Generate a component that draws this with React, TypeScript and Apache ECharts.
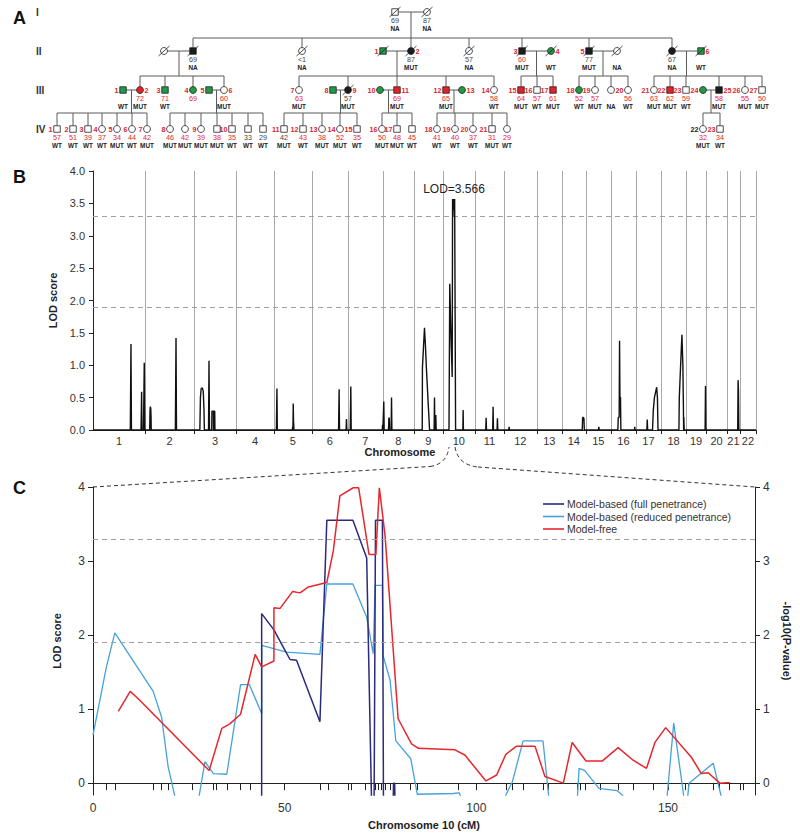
import React, { useEffect, useRef } from 'react';
import * as echarts from 'echarts';

const FONT = '"Liberation Sans", Arial, Helvetica, sans-serif';

// ---------------- Panel B: genome-wide scan ----------------
const chromNames = ['1','2','3','4','5','6','7','8','9','10','11','12','13','14','15','16','17','18','19','20','21','22'];
const chromLengths = [276,260,223,201,201,191,186,164,154,170,154,175,133,127,133,133,133,133,106,111,69,85];
const lodThresholds = [3.3, 1.9];
const peakLabel = 'LOD=3.566';

const chr1 = [[198,0],[201.5,1.33],[204,0],[255,0],[258,0.59],[260,0],[268,0],[272,1.04],[275,0]];
const chr2 = [[25,0],[26.5,0.3],[28.5,0.36],[30.5,0.33],[32,0.2],[33,0],[161,0],[164.5,1.42],[167,0]];
const chr3 = [[31,0],[34,0.5],[38,0.64],[44,0.65],[49,0.6],[53,0.3],[55,0],[77,0],[79.5,1.07],[82,0],[94,0],[95,0.29],[103,0.29],[103.5,0],[104,0.29],[110,0.29],[111,0]];
const chr4: number[][] = [];
const chr5 = [[13,0],[16,0.64],[18,0],[98,0],[99,0.04],[101,0.05],[102.5,0.41],[104,0.12],[105,0.1],[106,0]];
const chr6 = [[142,0],[145,0.63],[147,0],[182,0],[184,0.17],[186,0]];
const chr7 = [[13,0],[16,0.67],[18,0],[183,0],[184.5,0.08],[186,0]];
const chr8 = [[3,0],[5,0.44],[7,0],[30,0],[32,0.18],[34,0.19],[36,0],[44,0],[46,0.5],[48,0]];
const chr9 = [[45,0],[46,0.96],[52,1.3],[57,1.58],[62,1.3],[67,0.96],[75,0.5],[84,0],[108,0],[110,0.5],[112,0],[115,0],[117,0.23],[119,0]];
const chr10 = [[33,0],[37,2.26],[44,1.4],[50,0.82],[52,3.566],[54,3.3],[56,3.566],[60,3.4],[63,3.566],[66,3.566],[68,0],[106.5,0],[108,0.31],[109.5,0]];
const chr11 = [[58,0],[60,0.19],[62,0],[95,0],[97,0.36],[99,0],[118,0],[120,0.18],[122,0]];
const chr12 = [[26,0],[28,0.05],[30,0]];
const chr13: number[][] = [];
const chr14 = [[108,0],[110,0.18],[112,0.2],[115,0.2],[117,0.18],[119,0]];
const chr15 = [[67,0],[69,0.05],[71,0]];
const chr16 = [[37,0],[39,0.19],[44,0.2],[46,1.38],[48,0.5],[51,0.51],[53,0],[125,0],[127,0.05],[128,0]];
const chr17 = [[58,0],[60,0.16],[62,0],[88,0],[92,0.3],[98,0.5],[104,0.58],[110,0.66],[114,0.5],[117,0]];
const chr18 = [[95,0],[97,0.5],[104,1.0],[111,1.47],[116,1.0],[119,0.3],[120,0],[121,0.2],[123,0]];
const chr19 = [[101,0],[103,0.68],[105,0]];
const chr20: number[][] = [];
const chr21 = [[57,0],[59,0.77],[61,0.6],[63,0]];
const chr22: number[][] = [];
const genomeScan = [chr1,chr2,chr3,chr4,chr5,chr6,chr7,chr8,chr9,chr10,chr11,chr12,chr13,chr14,chr15,chr16,chr17,chr18,chr19,chr20,chr21,chr22];

// ---------------- Panel C: chromosome 10 ----------------
const chr10Max = 172.7;
const cTickLabels = [0, 50, 100, 150];
const lodTickLabels = [0, 1, 2, 3, 4];
const markerPositions = [0,3.4,5.7,15.7,17.9,19.6,26,31.4,32.1,34.9,38.3,41,44,50,59.2,61.4,66.6,67.5,70.9,72.7,73.6,74.4,75.3,76.2,77.5,78.3,82.7,84.6,95.3,100,107.9,109.4,112.2,117.5,118.8,126.2,127,128.3,132.2,137,140.9,146.1,150,154.4,155.3,161.8,163.5,166.1,168.8,169.6];

const seriesNames = ['Model-based (full penetrance)', 'Model-based (reduced penetrance)', 'Model-free'];

const fullPenetrance = [[44,-0.6],[44,2.29],[47.2,2.07],[49.6,1.84],[51.4,1.67],[53.1,1.66],[59.2,0.83],[61,3.55],[67.8,3.55],[71.4,3.04],[72.8,-0.6],[73.3,-0.6],[73.7,3.55],[75.5,3.55],[75.8,-0.6],[78.2,-0.6],[78.4,0.0],[78.7,0.0],[78.9,-0.6]];

const reducedPenetrance = [[0,0.65],[3.5,1.57],[5.7,2.03],[15.7,1.24],[17.9,0.89],[19.6,0.22],[25,-1],[29.2,0.29],[31.4,0.13],[34.9,0.12],[38.5,1.33],[40.8,1.33],[44,0.94],[44,1.86],[50.5,1.77],[59.2,1.74],[61,2.69],[67.8,2.69],[71.4,2.24],[73.1,1.75],[73.6,2.67],[75.5,2.67],[75.7,1.72],[77.5,1.39],[79,0.57],[82.9,0.33],[84.6,-0.15],[94,-0.14],[95.5,-0.13],[97,-0.3],[100,-1],[106,-1],[107.7,-0.16],[109.4,0.02],[112.2,0.57],[117.4,0.57],[120.5,-1],[125.5,-1],[126.8,0.2],[128.3,0.17],[132,-0.07],[136.7,-0.1],[138.3,-0.17],[140,-1],[148,-1],[149.8,-0.16],[151.5,0.81],[154.7,-0.4],[155.5,0.0],[161.8,0.27],[163.8,-0.16],[166,-1]];

const modelFree = [[6.6,0.97],[9.7,1.24],[11.8,1.14],[30.3,0.17],[33.6,0.74],[35.7,0.8],[38.5,0.93],[42.3,1.74],[44,1.57],[47.2,1.65],[47.2,2.37],[48.8,2.36],[52.1,2.59],[54,2.57],[56.2,2.65],[61,2.71],[62.7,3.14],[64.4,3.88],[67.9,3.99],[69.3,3.99],[72,3.09],[73.8,3.09],[74.7,3.99],[76.2,3.34],[79.6,0.87],[83.1,0.53],[84.9,0.47],[94.4,0.45],[97,0.38],[102.5,0.03],[105.3,0.11],[107.7,0.39],[110.5,0.5],[115.3,0.5],[117.9,0.09],[122.7,0.0],[125,0.55],[128.6,0.3],[132.9,0.3],[137,0.48],[140.9,0.31],[144.4,0.2],[146.6,0.55],[149.4,0.75],[156.1,0.35],[158.7,0.13],[160.5,0.14],[163.5,0.0],[166.1,0.01]];

// ---------------- Panel A: pedigree ----------------
const genLabels = ['I', 'II', 'III', 'IV'];
// [label, generation, x, sex, fill, deceased, age, ageRed, status, labelSide]
type Person = [string, number, number, string, string, number, string, number, string, string];
const people: Person[] = [
  ['', 0, 395, 'm', 'o', 1, '69', 0, 'NA', ''],
  ['', 0, 427, 'f', 'o', 1, '87', 0, 'NA', ''],
  ['', 1, 164, 'f', 'o', 1, '', 0, '', ''],
  ['', 1, 193, 'm', 'k', 1, '69', 0, 'NA', ''],
  ['', 1, 302, 'f', 'o', 1, '<1', 0, 'NA', ''],
  ['1', 1, 383, 'm', 'g', 1, '', 0, '', 'l'],
  ['2', 1, 411, 'f', 'k', 1, '87', 0, 'MUT', 'r'],
  ['', 1, 469, 'f', 'o', 1, '57', 0, 'NA', ''],
  ['3', 1, 522, 'm', 'k', 1, '60', 1, 'MUT', 'l'],
  ['4', 1, 551, 'f', 'g', 1, '', 0, 'WT', 'r'],
  ['5', 1, 589, 'm', 'k', 1, '77', 0, 'MUT', 'l'],
  ['', 1, 617, 'f', 'o', 1, '', 0, 'NA', ''],
  ['', 1, 672, 'f', 'k', 1, '67', 0, 'NA', ''],
  ['6', 1, 701, 'm', 'g', 1, '', 0, 'WT', 'r'],
  ['1', 2, 123, 'm', 'g', 0, '', 0, 'WT', 'l'],
  ['2', 2, 140, 'f', 'r', 0, '72', 1, 'MUT', 'r'],
  ['3', 2, 165, 'm', 'g', 0, '71', 1, 'WT', 'l'],
  ['4', 2, 193, 'f', 'g', 0, '69', 1, '', 'l'],
  ['5', 2, 209, 'm', 'g', 0, '', 0, '', 'l'],
  ['6', 2, 224, 'f', 'o', 0, '60', 1, 'MUT', 'r'],
  ['7', 2, 299, 'f', 'o', 0, '63', 1, 'MUT', 'l'],
  ['8', 2, 333, 'm', 'g', 0, '', 0, '', 'l'],
  ['9', 2, 348, 'f', 'k', 1, '57', 0, 'MUT', 'r'],
  ['10', 2, 380, 'f', 'g', 0, '', 0, '', 'l'],
  ['11', 2, 397, 'm', 'r', 0, '69', 1, 'MUT', 'r'],
  ['12', 2, 446, 'm', 'r', 0, '65', 1, 'MUT', 'l'],
  ['13', 2, 462, 'f', 'g', 0, '', 0, '', 'r'],
  ['14', 2, 494, 'f', 'o', 0, '58', 1, 'WT', 'l'],
  ['15', 2, 521, 'm', 'r', 0, '64', 1, 'MUT', 'l'],
  ['16', 2, 537, 'm', 'o', 0, '57', 1, 'WT', 'l'],
  ['17', 2, 553, 'm', 'r', 0, '61', 1, 'MUT', 'l'],
  ['18', 2, 579, 'f', 'g', 0, '52', 1, 'WT', 'l'],
  ['19', 2, 595, 'f', 'o', 0, '57', 1, 'MUT', 'l'],
  ['', 2, 611, 'f', 'o', 0, '', 0, 'NA', ''],
  ['20', 2, 628, 'f', 'o', 0, '56', 1, 'WT', 'l'],
  ['21', 2, 654, 'f', 'o', 0, '63', 1, 'MUT', 'l'],
  ['22', 2, 670, 'm', 'r', 0, '62', 1, 'MUT', 'l'],
  ['23', 2, 686, 'm', 'o', 0, '59', 1, 'WT', 'l'],
  ['24', 2, 703, 'f', 'g', 0, '', 0, '', 'l'],
  ['25', 2, 719, 'm', 'k', 0, '58', 1, 'MUT', 'r'],
  ['26', 2, 745, 'f', 'o', 0, '55', 1, 'MUT', 'l'],
  ['27', 2, 762, 'm', 'o', 0, '50', 1, 'MUT', 'l'],
  ['1', 3, 57, 'm', 'o', 0, '57', 1, 'WT', 'l'],
  ['2', 3, 73, 'm', 'o', 0, '51', 1, 'WT', 'l'],
  ['3', 3, 88, 'm', 'o', 0, '39', 1, 'WT', 'l'],
  ['4', 3, 102, 'f', 'o', 0, '37', 1, 'WT', 'l'],
  ['5', 3, 117, 'f', 'o', 0, '34', 1, 'MUT', 'l'],
  ['6', 3, 132, 'f', 'o', 0, '44', 1, 'WT', 'l'],
  ['7', 3, 147, 'f', 'o', 0, '42', 1, 'MUT', 'l'],
  ['8', 3, 170, 'f', 'o', 0, '46', 1, 'MUT', 'l'],
  ['', 3, 185, 'f', 'o', 0, '42', 1, 'MUT', ''],
  ['9', 3, 201, 'f', 'o', 0, '39', 1, 'MUT', 'l'],
  ['', 3, 217, 'm', 'o', 0, '38', 1, 'MUT', ''],
  ['10', 3, 232, 'm', 'o', 0, '35', 1, 'WT', 'l'],
  ['', 3, 248, 'm', 'o', 0, '33', 0, 'WT', ''],
  ['', 3, 263, 'm', 'o', 0, '29', 0, 'WT', ''],
  ['11', 3, 284, 'm', 'o', 0, '42', 0, 'MUT', 'l'],
  ['12', 3, 303, 'm', 'o', 0, '43', 1, 'WT', 'l'],
  ['13', 3, 322, 'f', 'o', 0, '38', 1, 'MUT', 'l'],
  ['14', 3, 340, 'f', 'o', 0, '52', 1, 'MUT', 'l'],
  ['15', 3, 357, 'm', 'o', 0, '35', 1, 'WT', 'l'],
  ['16', 3, 382, 'f', 'o', 0, '50', 1, 'MUT', 'l'],
  ['17', 3, 397, 'm', 'o', 0, '48', 1, 'MUT', 'l'],
  ['', 3, 412, 'm', 'o', 0, '45', 1, 'WT', ''],
  ['18', 3, 437, 'f', 'o', 0, '41', 1, 'WT', 'l'],
  ['19', 3, 455, 'f', 'o', 0, '40', 1, 'WT', 'l'],
  ['20', 3, 473, 'f', 'o', 0, '37', 1, 'WT', 'l'],
  ['21', 3, 492, 'm', 'o', 0, '31', 1, 'MUT', 'l'],
  ['', 3, 507, 'f', 'o', 0, '29', 1, 'WT', ''],
  ['22', 3, 703, 'f', 'o', 0, '32', 1, 'MUT', 'l'],
  ['23', 3, 720, 'm', 'o', 0, '34', 1, 'WT', 'l'],
];
// [generation, x1, x2]
const couples: number[][] = [[0,395,427],[1,164,193],[1,383,411],[1,522,551],[1,589,617],[1,672,701],[2,123,140],[2,209,224],[2,333,348],[2,380,397],[2,446,462],[2,703,719]];
// [parent generation, drop x, child xs]
const sibships: [number, number, number[]][] = [
  [0, 411, [193, 302, 411, 469, 522, 589, 672]],
  [1, 179, [140, 165, 193, 224]],
  [1, 397, [299, 348, 397, 446, 494]],
  [1, 536.5, [521, 537, 553]],
  [1, 603, [579, 595, 611, 628]],
  [1, 686.5, [654, 670, 686, 719, 745, 762]],
  [2, 131.5, [57, 73, 88, 102, 117, 132, 147]],
  [2, 216.5, [170, 185, 201, 217, 232, 248, 263]],
  [2, 340.5, [284, 303, 322, 340, 357]],
  [2, 388.5, [382, 397, 412]],
  [2, 454, [437, 455, 473, 492, 507]],
  [2, 711, [703, 720]],
];

const GEN_Y = [12, 51, 90, 129];
const SIB_Y = [38, 76, 113];
const SYM = 6.5;
const RED = '#e3232a';
const GREEN = '#1f9a45';
const LINE = '#5a5a5a';
const FILLS: Record<string, string> = { o: '#ffffff', g: GREEN, r: RED, k: '#1a1a1a' };

function txt(x: number, y: number, text: string, size: number, color: string, weight: string, align: string): any {
  return {
    type: 'text', x, y, z: 5,
    style: { text, fill: color, fontSize: size, fontWeight: weight, fontFamily: FONT, align, verticalAlign: 'middle', textAlign: align, textVerticalAlign: 'middle' },
  };
}

function pedigreeElements(): any[] {
  const els: any[] = [];
  const ln = (x1: number, y1: number, x2: number, y2: number) => ({ type: 'line', z: 1, shape: { x1, y1, x2, y2 }, style: { stroke: LINE, lineWidth: 1 } });
  couples.forEach(([g, a, b]) => els.push(ln(a, GEN_Y[g], b, GEN_Y[g])));
  sibships.forEach(([g, dx, kids]) => {
    const sy = SIB_Y[g];
    els.push(ln(dx, GEN_Y[g], dx, sy));
    const lo = Math.min(dx, ...kids), hi = Math.max(dx, ...kids);
    if (hi > lo) els.push(ln(lo, sy, hi, sy));
    kids.forEach((k) => els.push(ln(k, sy, k, GEN_Y[g + 1] - SYM / 2)));
  });
  people.forEach(([label, g, x, sex, fill, dead, age, ageRed, status, side]) => {
    const y = GEN_Y[g];
    const style = { fill: FILLS[fill], stroke: '#222', lineWidth: 0.8 };
    if (sex === 'm') els.push({ type: 'rect', z: 3, shape: { x: x - SYM / 2, y: y - SYM / 2, width: SYM, height: SYM }, style });
    else els.push({ type: 'circle', z: 3, shape: { cx: x, cy: y, r: SYM / 2 + 0.2 }, style });
    if (dead) els.push({ type: 'line', z: 4, shape: { x1: x - 5.5, y1: y + 5, x2: x + 5.5, y2: y - 5 }, style: { stroke: '#222', lineWidth: 0.8 } });
    if (label) {
      const lx = side === 'l' ? x - 4.5 : x + 4.5;
      els.push(txt(lx, y, label, 7.2, label === '22' && g === 3 ? '#222' : RED, 'bold', side === 'l' ? 'right' : 'left'));
    }
    if (age) els.push(txt(x, y + 8, age, 7.2, ageRed ? RED : '#444', 'normal', 'center'));
    if (status) els.push(txt(x, y + 16.5, status, 6.4, '#222', 'bold', 'center'));
  });
  genLabels.forEach((t, i) => els.push(txt(36, GEN_Y[i], t, 10, '#333', 'bold', 'left')));
  return els;
}

function buildOption(): any {
  const offsets: number[] = [];
  let acc = 0;
  chromLengths.forEach((l) => { offsets.push(acc); acc += l; });
  const total = acc;
  const bounds = [...offsets.slice(1), total];
  const mids = chromLengths.map((l, i) => offsets[i] + l / 2);
  const genome: number[][] = [[0, 0]];
  genomeScan.forEach((pts, i) => pts.forEach((p) => genome.push([offsets[i] + p[0], p[1]])));
  genome.push([total, 0]);

  const chromFormatter = (v: number) => {
    let best = 0;
    mids.forEach((m, i) => { if (Math.abs(m - v) < Math.abs(mids[best] - v)) best = i; });
    return chromNames[best];
  };

  const axisCommon = {
    axisLine: { show: true, lineStyle: { color: '#222', width: 1 } },
    splitLine: { show: false },
  };
  const nameStyle = { fontSize: 11, fontWeight: 'bold', color: '#222', fontFamily: FONT };
  const greyDash = { color: '#a0a0a0', width: 1, type: [5, 4] };
  const dash = { stroke: '#333', lineWidth: 1, lineDash: [4, 3], fill: 'none' };

  const graphic = [
    ...pedigreeElements(),
    txt(13, 18, 'A', 18, '#111', 'bold', 'left'),
    txt(13, 177, 'B', 18, '#111', 'bold', 'left'),
    txt(13, 488, 'C', 18, '#111', 'bold', 'left'),
    txt(454, 189, peakLabel, 12, '#222', 'normal', 'center'),
    txt(400, 452, 'Chromosome', 11, '#222', 'bold', 'center'),
    { type: 'polyline', z: 2, shape: { points: [[93, 487], [430, 466.5]] }, style: dash },
    { type: 'bezierCurve', z: 2, shape: { x1: 430, y1: 466.5, cpx1: 447, cpy1: 464, x2: 449, y2: 447 }, style: dash },
    { type: 'bezierCurve', z: 2, shape: { x1: 455, y1: 447, cpx1: 458, cpy1: 465, x2: 478, y2: 467 }, style: dash },
    { type: 'polyline', z: 2, shape: { points: [[478, 467], [755, 487]] }, style: dash },
  ];

  return {
    animation: false,
    backgroundColor: '#ffffff',
    textStyle: { fontFamily: FONT },
    grid: [
      { left: 93, top: 171, width: 663, height: 259 },
      { left: 93, top: 487, width: 662, height: 308 },
    ],
    legend: {
      data: seriesNames,
      orient: 'vertical',
      left: 538,
      top: 493,
      icon: 'rect',
      itemWidth: 21,
      itemHeight: 1.6,
      itemGap: 0.5,
      selectedMode: false,
      textStyle: { fontSize: 10.5, color: '#333', lineHeight: 12, fontFamily: FONT, padding: [0, 0, 0, -2] },
    },
    xAxis: [
      {
        type: 'value', gridIndex: 0, min: 0, max: total, ...axisCommon,
        axisTick: { show: true, customValues: bounds, length: 4, lineStyle: { color: '#222' } },
        axisLabel: { customValues: mids, formatter: chromFormatter, fontSize: 11, color: '#333', margin: 5 },
      },
      {
        type: 'value', gridIndex: 1, min: 0, max: chr10Max, ...axisCommon,
        axisTick: { show: true, customValues: markerPositions, length: 7, lineStyle: { color: '#222' } },
        axisLabel: { customValues: cTickLabels, fontSize: 12, color: '#333', margin: 7 },
        name: 'Chromosome 10 (cM)', nameLocation: 'middle', nameGap: 24, nameTextStyle: nameStyle,
      },
    ],
    yAxis: [
      {
        type: 'value', gridIndex: 0, min: 0, max: 4, interval: 0.5, ...axisCommon,
        axisTick: { show: true, length: 4, lineStyle: { color: '#222' } },
        axisLabel: { formatter: (v: number) => v.toFixed(1), fontSize: 11, color: '#333' },
        name: 'LOD score', nameLocation: 'middle', nameGap: 31, nameRotate: 90, nameTextStyle: nameStyle,
      },
      {
        type: 'value', gridIndex: 1, min: -0.16, max: 4, ...axisCommon,
        axisTick: { show: true, customValues: lodTickLabels, length: 5, lineStyle: { color: '#222' } },
        axisLabel: { customValues: lodTickLabels, fontSize: 12, color: '#333' },
        name: 'LOD score', nameLocation: 'middle', nameGap: 31, nameRotate: 90, nameTextStyle: nameStyle,
      },
      {
        type: 'value', gridIndex: 1, position: 'right', min: -0.16, max: 4, ...axisCommon,
        axisTick: { show: true, customValues: lodTickLabels, length: 5, lineStyle: { color: '#222' } },
        axisLabel: { customValues: lodTickLabels, fontSize: 12, color: '#333' },
        name: '-log10(P-value)', nameLocation: 'middle', nameGap: 26, nameRotate: -90, nameTextStyle: nameStyle,
      },
    ],
    series: [
      {
        type: 'line', name: 'genome', xAxisIndex: 0, yAxisIndex: 0, data: genome, symbol: 'none',
        color: '#111', lineStyle: { color: '#111', width: 1.4 }, z: 3,
        markLine: {
          silent: true, symbol: ['none', 'none'], label: { show: false }, z: 1,
          data: [
            ...bounds.map((b) => ({ xAxis: b, lineStyle: { color: '#a8a8a8', width: 1, type: 'solid' } })),
            ...lodThresholds.map((t) => ({ yAxis: t, lineStyle: greyDash })),
          ],
        },
      },
      {
        type: 'line', name: seriesNames[1], xAxisIndex: 1, yAxisIndex: 1, data: reducedPenetrance, symbol: 'none',
        color: '#45a2da', lineStyle: { color: '#45a2da', width: 1.3 },
        markLine: {
          silent: true, symbol: ['none', 'none'], label: { show: false },
          data: lodThresholds.map((t) => ({ yAxis: t, lineStyle: greyDash })),
        },
      },
      {
        type: 'line', name: seriesNames[0], xAxisIndex: 1, yAxisIndex: 1, data: fullPenetrance, symbol: 'none',
        color: '#2b2a7c', lineStyle: { color: '#2b2a7c', width: 1.5 },
      },
      {
        type: 'line', name: seriesNames[2], xAxisIndex: 1, yAxisIndex: 1, data: modelFree, symbol: 'none',
        color: '#e8262b', lineStyle: { color: '#e8262b', width: 1.5 },
      },
    ],
    graphic,
  };
}

export default function App() {
  const ref = useRef<HTMLDivElement>(null);
  useEffect(() => {
    const chart = echarts.init(ref.current as HTMLDivElement, null, { renderer: 'svg' });
    chart.setOption(buildOption());
    return () => chart.dispose();
  }, []);
  return <div ref={ref} style={{ position: 'absolute', left: 0, top: 0, width: 800, height: 839, background: '#fff' }} />;
}
